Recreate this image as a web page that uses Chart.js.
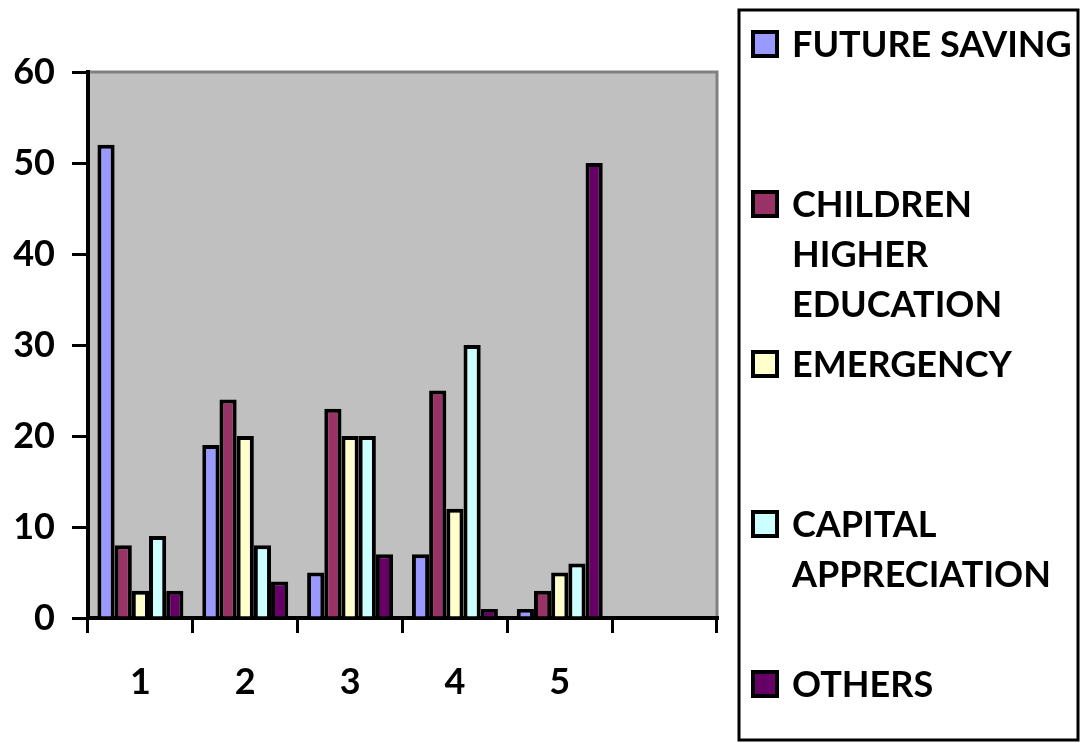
<!DOCTYPE html>
<html>
<head>
<meta charset="utf-8">
<script src="https://cdn.jsdelivr.net/npm/chart.js@4/dist/chart.umd.min.js"></script>
<style>
  html, body { margin: 0; padding: 0; background: #ffffff; }
  #wrap { position: relative; width: 1081px; height: 743px; }
  canvas { display: block; }
</style>
</head>
<body>
<div id="wrap"><canvas id="chart" width="1081" height="743"></canvas></div>
<script>
// Survey groups on the x axis (the sixth slot is left empty)
const categories = ['1', '2', '3', '4', '5', ''];

// Percent of respondents per saving purpose
const futureSaving      = [52, 19, 5, 7, 1];
const childrenEducation = [8, 24, 23, 25, 3];
const emergency         = [3, 20, 20, 12, 5];
const capitalApprec     = [9, 8, 20, 30, 6];
const others            = [3, 4, 7, 1, 50];

const seriesNames = ['FUTURE SAVING', 'CHILDREN HIGHER EDUCATION', 'EMERGENCY', 'CAPITAL APPRECIATION', 'OTHERS'];
const seriesValues = [futureSaving, childrenEducation, emergency, capitalApprec, others];
const seriesColors = ['#9999FF', '#993366', '#FFFFCC', '#CCFFFF', '#660066'];

const yTicks = [0, 10, 20, 30, 40, 50, 60];

const FONT = 'Lato, "Open Sans", sans-serif';

// Grey plot background with a darker frame on top and right
const plotBackground = {
  id: 'plotBackground',
  beforeDraw(chart) {
    const { ctx, chartArea: a } = chart;
    ctx.save();
    ctx.fillStyle = '#C0C0C0';
    ctx.fillRect(a.left, a.top, a.right - a.left, a.bottom - a.top);
    ctx.strokeStyle = '#808080';
    ctx.lineWidth = 3;
    ctx.beginPath();
    ctx.moveTo(a.left, a.top);
    ctx.lineTo(a.right, a.top);
    ctx.lineTo(a.right, a.bottom);
    ctx.stroke();
    ctx.restore();
  }
};

// Boxed legend on the right, one item per dataset, evenly spaced
const boxedLegend = {
  id: 'boxedLegend',
  afterDraw(chart) {
    const ctx = chart.ctx;
    const left = 739, top = 10, right = 1078, bottom = 740;
    ctx.save();
    ctx.strokeStyle = '#000000';
    ctx.lineWidth = 3;
    ctx.strokeRect(left, top, right - left, bottom - top);

    const size = 36;
    ctx.font = `700 ${size}px ${FONT}`;
    ctx.fillStyle = '#000000';
    ctx.textAlign = 'left';
    ctx.textBaseline = 'alphabetic';
    const textX = 792, maxW = 285, lineH = 50, step = 160, firstY = 44;

    chart.data.datasets.forEach((ds, i) => {
      const cy = firstY + step * i;
      // swatch
      ctx.fillStyle = ds.backgroundColor;
      ctx.fillRect(751, cy - 14, 28, 28);
      ctx.strokeStyle = '#000000';
      ctx.lineWidth = 4;
      ctx.strokeRect(753, cy - 12, 24, 24);
      // wrapped label
      ctx.font = `700 ${size}px ${FONT}`;
      const words = ds.label.split(' ');
      const lines = [];
      let cur = '';
      words.forEach(w => {
        const test = cur ? cur + ' ' + w : w;
        if (cur && ctx.measureText(test).width > maxW) { lines.push(cur); cur = w; }
        else cur = test;
      });
      if (cur) lines.push(cur);
      ctx.fillStyle = '#000000';
      lines.forEach((ln, j) => {
        ctx.fillText(ln, textX, cy + j * lineH + 13);
      });
    });
    ctx.restore();
  }
};

new Chart(document.getElementById('chart'), {
  type: 'bar',
  data: {
    labels: categories,
    datasets: seriesNames.map((name, i) => ({
      label: name,
      data: seriesValues[i],
      backgroundColor: seriesColors[i],
      borderColor: '#000000',
      borderWidth: 4,
      categoryPercentage: 0.82,
      barPercentage: 1.0
    }))
  },
  options: {
    responsive: false,
    animation: false,
    layout: { padding: { top: 72, right: 364, left: 0, bottom: 0 } },
    plugins: {
      legend: { display: false },
      tooltip: { enabled: false }
    },
    scales: {
      x: {
        offset: true,
        grid: {
          offset: true,
          drawOnChartArea: false,
          drawTicks: true,
          tickLength: 15,
          color: '#000000',
          lineWidth: 3
        },
        border: { display: true, color: '#000000', width: 4 },
        ticks: {
          color: '#000000',
          font: { family: FONT, size: 36, weight: '700' },
          padding: 28,
          maxRotation: 0
        },
        afterFit(scale) { scale.height = 125; }
      },
      y: {
        min: 0,
        max: 60,
        afterBuildTicks(scale) { scale.ticks = yTicks.map(v => ({ value: v })); },
        grid: {
          drawOnChartArea: false,
          drawTicks: true,
          tickLength: 16,
          color: '#000000',
          lineWidth: 3
        },
        border: { display: true, color: '#000000', width: 4 },
        ticks: {
          color: '#000000',
          font: { family: FONT, size: 36, weight: '700' },
          padding: 17
        },
        afterFit(scale) { scale.width = 88; }
      }
    }
  },
  plugins: [plotBackground, boxedLegend]
});
</script>
</body>
</html>
